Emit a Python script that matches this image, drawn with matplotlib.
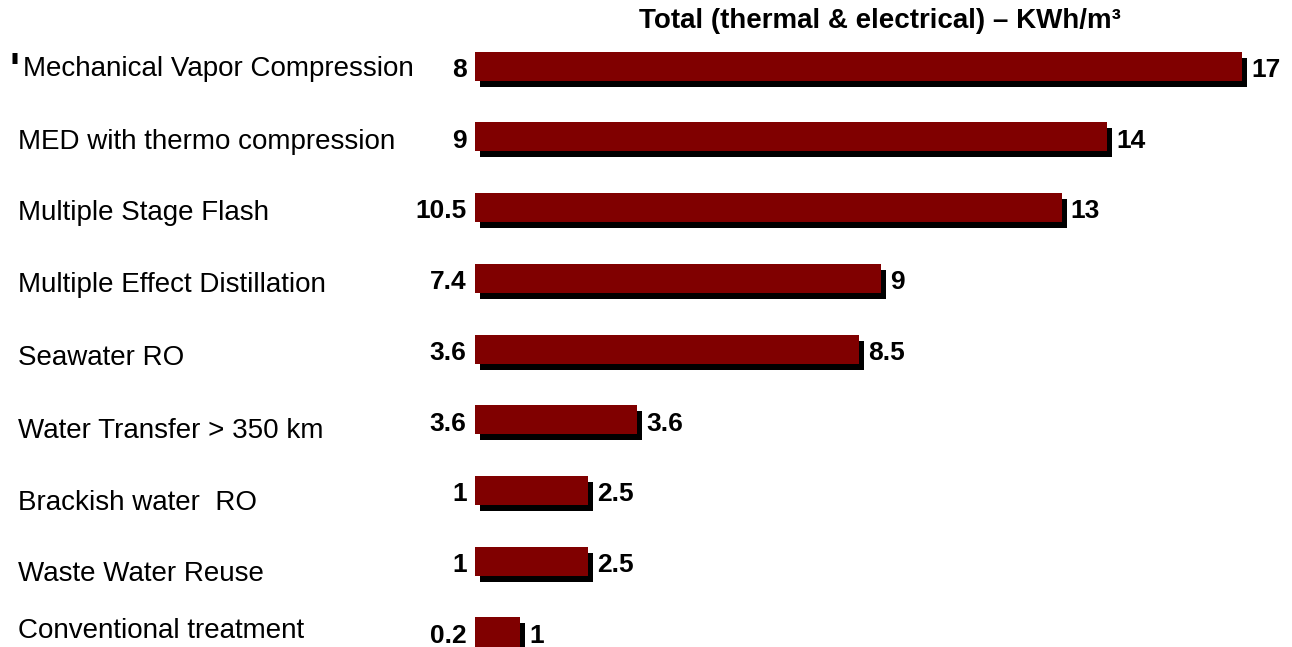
import matplotlib
matplotlib.use('Agg')
import matplotlib.pyplot as plt
import matplotlib.transforms as mtransforms

plt.rcParams['font.family'] = ['Liberation Sans', 'DejaVu Sans']

# 各处理工艺的能耗范围 (KWh/m3)
processes = ['Mechanical Vapor Compression', 'MED with thermo compression', 'Multiple Stage Flash',
             'Multiple Effect Distillation', 'Seawater RO', 'Water Transfer > 350 km',
             'Brackish water  RO', 'Waste Water Reuse', 'Conventional treatment']
energy_min = [8, 9, 10.5, 7.4, 3.6, 3.6, 1, 1, 0.2]
energy_max = [17, 14, 13, 9, 8.5, 3.6, 2.5, 2.5, 1]
min_labels = ['8', '9', '10.5', '7.4', '3.6', '3.6', '1', '1', '0.2']
max_labels = ['17', '14', '13', '9', '8.5', '3.6', '2.5', '2.5', '1']

BAR_COLOR = '#800000'
# 名称文本框的位置微调 (像素)
label_dx = [5, 0, 0, 0, 0, 0, 0, 0, 0]
label_dy = [0, 2, 2, 4, 6, 8, 9, 10, -4]

fig = plt.figure(figsize=(12.92, 6.47), dpi=100)
ax = fig.add_axes([0, 0, 1, 1])
ax.set_axis_off()

rows = list(range(len(processes)))

# 阴影: 同样的条形, 向右下偏移
shadow = mtransforms.offset_copy(ax.transData, fig=fig, x=5, y=-6, units='dots')
ax.barh(rows, energy_max, height=0.41, color='black', transform=shadow, zorder=1)
ax.barh(rows, energy_max, height=0.41, color=BAR_COLOR, zorder=2)

ax.set_xlim(-10.52, 18.10)
ax.set_ylim(8.212, -0.933)

# 左侧工艺名称
label_trans = mtransforms.blended_transform_factory(ax.transAxes, ax.transData)
for i, name in enumerate(processes):
    ax.annotate(name, xy=(18 / 1292, i), xycoords=label_trans,
                xytext=(label_dx[i] * 0.72, -label_dy[i] * 0.72), textcoords='offset points',
                ha='left', va='center_baseline', fontsize=20, color='black')

# 最小值 / 最大值标注
for i in rows:
    ax.annotate(min_labels[i], xy=(0, i), xytext=(-6, -1), textcoords='offset points',
                ha='right', va='center_baseline', fontsize=19, fontweight='bold')
    ax.annotate(max_labels[i], xy=(energy_max[i], i), xytext=(6.5, -1), textcoords='offset points',
                ha='left', va='center_baseline', fontsize=19, fontweight='bold')

# 第一行左边的小标记
ax.annotate("'", xy=(10 / 1292, 0), xycoords=label_trans, xytext=(0, 11),
            textcoords='offset points', ha='left', va='top', fontsize=30, fontweight='bold')

fig.text(880 / 1292, 1 - 18 / 647, 'Total (thermal & electrical) – KWh/m³',
         ha='center', va='center_baseline', fontsize=20, fontweight='bold')

fig.savefig('out.png', dpi=100)
